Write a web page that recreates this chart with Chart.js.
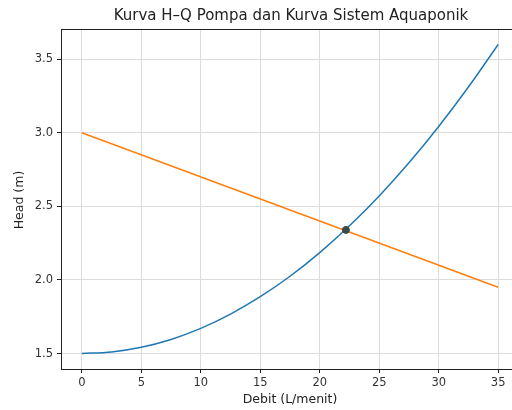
<!DOCTYPE html>
<html><head><meta charset="utf-8">
<script src="https://cdn.jsdelivr.net/npm/chart.js@4/dist/chart.umd.min.js"></script>
<style>html,body{margin:0;padding:0;background:#fff;overflow:hidden;width:512px;height:410px}#wrap{position:absolute;left:0;top:0;width:530px;height:410px}</style>
</head><body><div id="wrap"><canvas id="c" width="530" height="410"></canvas></div>
<script>
const titleText = 'Kurva H–Q Pompa dan Kurva Sistem Aquaponik';
const xLabel = 'Debit (L/menit)';
const yLabel = 'Head (m)';
const pumpQ = [0, 35];
const pumpH = [3.0, 1.95];
const sysQ = [0, 2.5, 5, 7.5, 10, 12.5, 15, 17.5, 20, 22.5, 25, 27.5, 30, 32.5, 35];
const sysH = [1.500, 1.511, 1.543, 1.596, 1.671, 1.768, 1.886, 2.025, 2.186, 2.368, 2.571, 2.796, 3.043, 3.311, 3.600];
const opQ = [22.2];
const opH = [2.34];
const xTicks = [0, 5, 10, 15, 20, 25, 30, 35];
const yTicks = [1.5, 2.0, 2.5, 3.0, 3.5];

const FONT = "'DejaVu Sans', sans-serif";
const pts = (xs, ys) => xs.map((x, i) => ({x: x, y: ys[i]}));

const deco = {
  id: 'deco',
  afterDraw(chart) {
    const ctx = chart.ctx, a = chart.chartArea;
    ctx.save();
    ctx.strokeStyle = '#222';
    ctx.lineWidth = 1;
    ctx.strokeRect(a.left + 0.5, a.top + 0.5, a.right - a.left, a.bottom - a.top);
    ctx.fillStyle = '#222';
    ctx.textAlign = 'center';
    ctx.textBaseline = 'middle';
    ctx.font = '15px ' + FONT;
    ctx.fillText(titleText, 291, 16);
    ctx.font = '12.5px ' + FONT;
    ctx.fillText(xLabel, 290, 400);
    ctx.translate(20, 200);
    ctx.rotate(-Math.PI / 2);
    ctx.fillText(yLabel, 0, 0);
    ctx.restore();
  }
};

new Chart(document.getElementById('c'), {
  type: 'scatter',
  data: {
    datasets: [
      {data: pts(sysQ, sysH), showLine: true, borderColor: '#1f77b4', backgroundColor: '#1f77b4', borderWidth: 1.5, pointRadius: 0, cubicInterpolationMode: 'monotone', order: 2},
      {data: pts(pumpQ, pumpH), showLine: true, borderColor: '#ff7f0e', backgroundColor: '#ff7f0e', borderWidth: 1.5, pointRadius: 0, order: 3},
      {data: pts(opQ, opH), showLine: false, borderColor: '#3a4a4a', backgroundColor: '#3a4a4a', pointRadius: 3.5, order: 1}
    ]
  },
  options: {
    responsive: false,
    animation: false,
    layout: {padding: {top: 29, right: 11, left: 0, bottom: 0}},
    plugins: {legend: {display: false}, title: {display: false}, tooltip: {enabled: false}},
    scales: {
      x: {
        type: 'linear', min: -1.75, max: 36.75,
        afterBuildTicks: s => { s.ticks = xTicks.map(v => ({value: v})); },
        afterFit: s => { s.height = 41; },
        grid: {color: '#dcdcdc', tickColor: '#222', tickLength: 4, lineWidth: 1},
        border: {display: false},
        ticks: {color: '#333', font: {family: FONT, size: 11.5}, padding: 3, maxRotation: 0}
      },
      y: {
        type: 'linear', min: 1.395, max: 3.705,
        afterBuildTicks: s => { s.ticks = yTicks.map(v => ({value: v})); },
        afterFit: s => { s.width = 61; },
        grid: {color: '#dcdcdc', tickColor: '#222', tickLength: 4, lineWidth: 1},
        border: {display: false},
        ticks: {color: '#333', font: {family: FONT, size: 11.5}, padding: 4, callback: v => v.toFixed(1)}
      }
    }
  },
  plugins: [deco]
});
</script></body></html>
